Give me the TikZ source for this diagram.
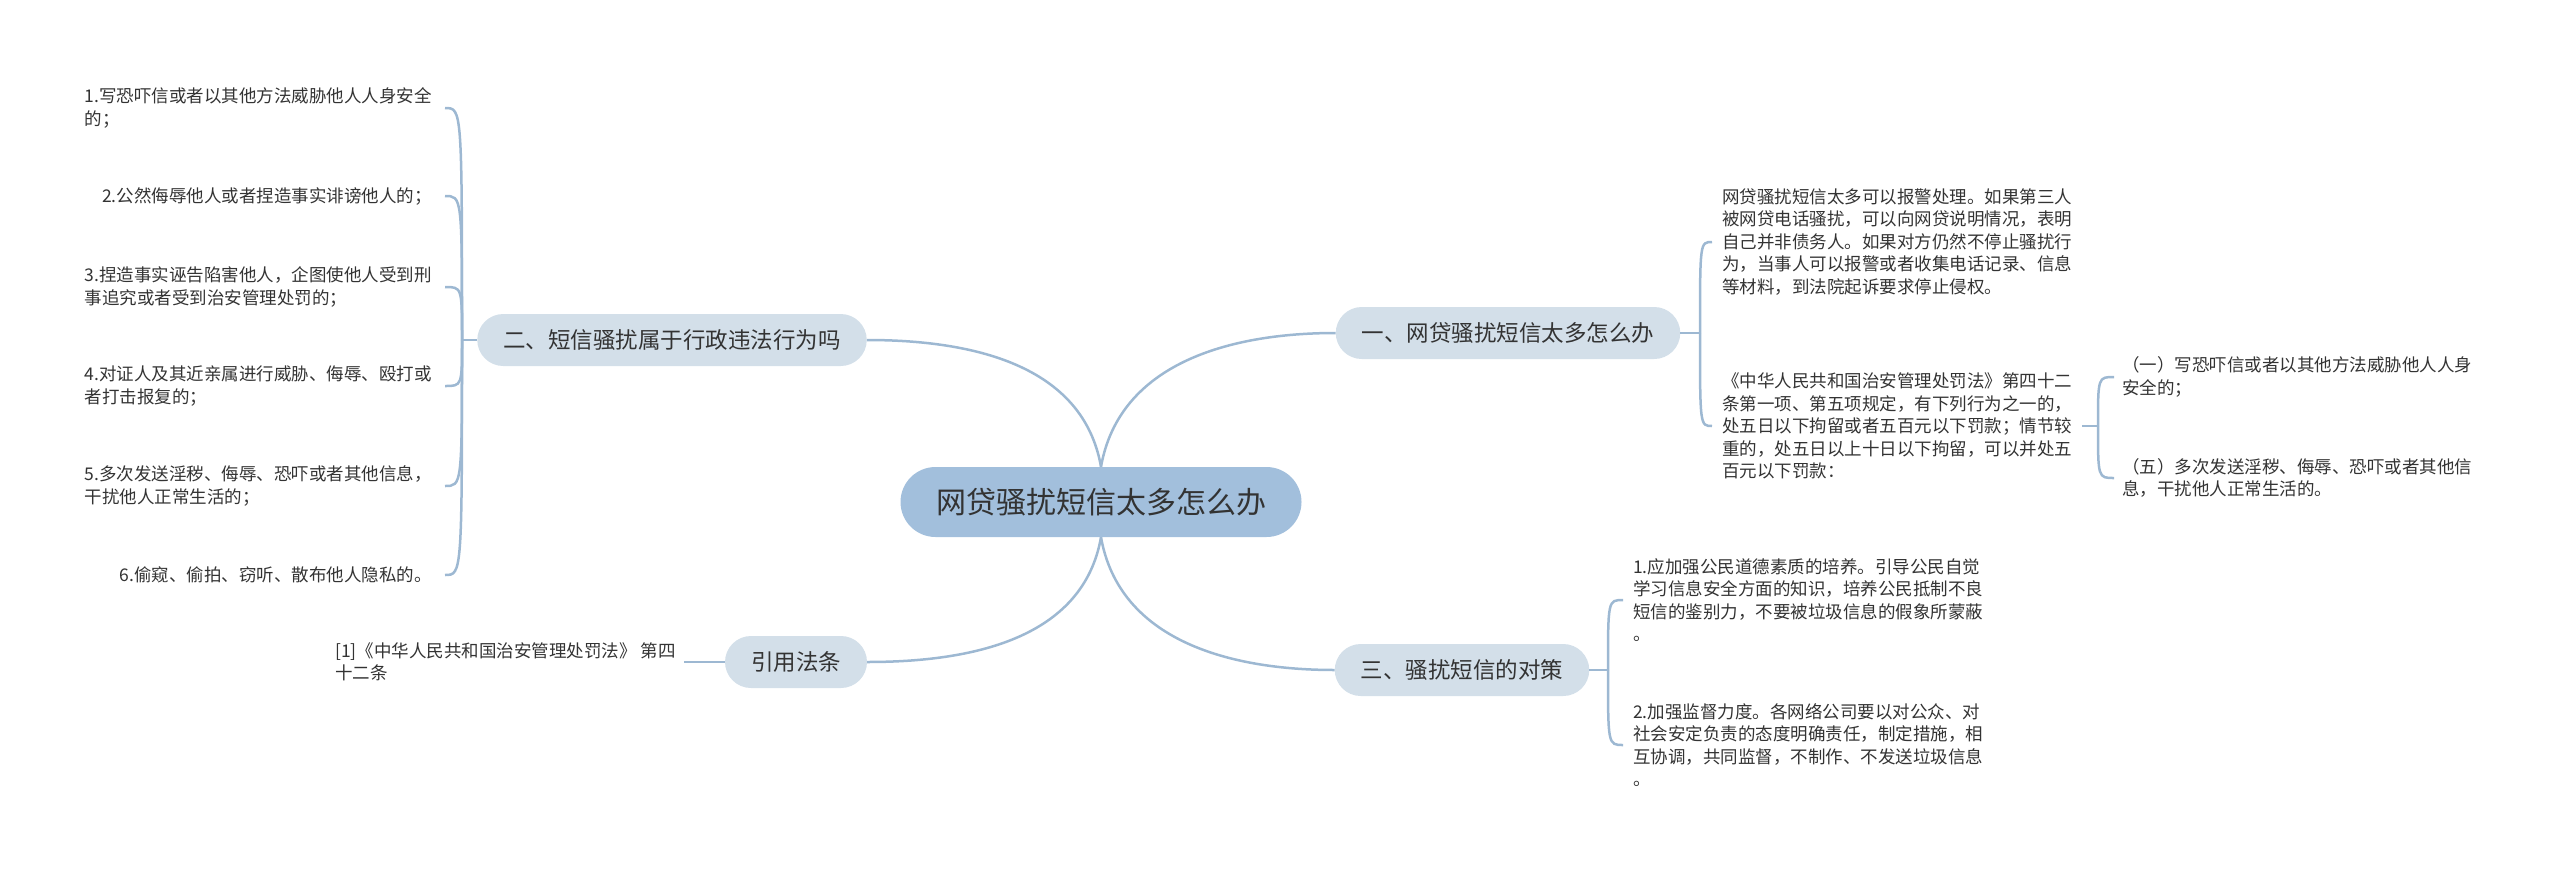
\documentclass[tikz,border=0pt]{standalone}
\usepackage{fontspec}
\setmainfont{Noto Sans CJK SC}
\usetikzlibrary{positioning}
\definecolor{linkblue}{HTML}{9DB8D2}
\definecolor{rootfill}{HTML}{A2BFDC}
\definecolor{topicfill}{HTML}{D3DFE9}
\definecolor{inkgray}{HTML}{333333}

\begin{document}
\begin{tikzpicture}[
  x=1pt, y=1pt,
  root/.style={rectangle, rounded corners=35pt, fill=rootfill, text=inkgray, minimum width=401pt, minimum height=70pt, font=\fontsize{30}{34}\selectfont},
  topic/.style={rectangle, rounded corners=26pt, fill=topicfill, text=inkgray, inner xsep=26pt, minimum height=52pt, font=\fontsize{22.5}{26}\selectfont},
  leaf/.style={align=left, text=inkgray, inner xsep=10pt, inner ysep=2pt, font=\fontsize{17.5}{22.5}\selectfont},
  link/.style={draw=linkblue, line width=2.5pt}
]
\useasboundingbox (0,0) rectangle (2560,-873);

\node[root] (hub) at (1101,-502) {网贷骚扰短信太多怎么办};
\node[topic] (how) at (1508,-333) {一、网贷骚扰短信太多怎么办};
\node[topic] (admin) at (672,-340) {二、短信骚扰属于行政违法行为吗};
\node[topic] (cite) at (796,-662) {引用法条};
\node[topic] (plan) at (1462,-670) {三、骚扰短信的对策};

% 一
\coordinate (howfork) at (1700,-333);
\node[leaf, anchor=west] (howtip) at (1712,-242) {网贷骚扰短信太多可以报警处理。如果第三人\\被网贷电话骚扰，可以向网贷说明情况，表明\\自己并非债务人。如果对方仍然不停止骚扰行\\为，当事人可以报警或者收集电话记录、信息\\等材料，到法院起诉要求停止侵权。};
\node[leaf, anchor=west] (howlaw) at (1712,-426) {《中华人民共和国治安管理处罚法》第四十二\\条第一项、第五项规定，有下列行为之一的，\\处五日以下拘留或者五百元以下罚款；情节较\\重的，处五日以上十日以下拘留，可以并处五\\百元以下罚款：};
\coordinate (lawfork) at (2098,-426);
\node[leaf, anchor=west, inner xsep=8pt] (lawone) at (2114,-377) {（一）写恐吓信或者以其他方法威胁他人人身\\安全的；};
\node[leaf, anchor=west, inner xsep=8pt] (lawfive) at (2114,-478) {（五）多次发送淫秽、侮辱、恐吓或者其他信\\息，干扰他人正常生活的。};

% 二
\coordinate (adminfork) at (462,-340);
\node[leaf, anchor=east, inner xsep=13pt] (threat) at (445,-108) {1.写恐吓信或者以其他方法威胁他人人身安全\\的；};
\node[leaf, anchor=east, inner xsep=13pt] (insult) at (445,-196) {2.公然侮辱他人或者捏造事实诽谤他人的；};
\node[leaf, anchor=east, inner xsep=13pt] (frame) at (445,-287) {3.捏造事实诬告陷害他人，企图使他人受到刑\\事追究或者受到治安管理处罚的；};
\node[leaf, anchor=east, inner xsep=13pt] (witness) at (445,-386) {4.对证人及其近亲属进行威胁、侮辱、殴打或\\者打击报复的；};
\node[leaf, anchor=east, inner xsep=13pt] (obscene) at (445,-486) {5.多次发送淫秽、侮辱、恐吓或者其他信息，\\干扰他人正常生活的；};
\node[leaf, anchor=east, inner xsep=13pt] (privacy) at (445,-575) {6.偷窥、偷拍、窃听、散布他人隐私的。};

% 三
\coordinate (planfork) at (1608,-670);
\node[leaf, anchor=west] (moral) at (1623,-600) {1.应加强公民道德素质的培养。引导公民自觉\\学习信息安全方面的知识，培养公民抵制不良\\短信的鉴别力，不要被垃圾信息的假象所蒙蔽\\。};
\node[leaf, anchor=west] (supervise) at (1623,-745) {2.加强监督力度。各网络公司要以对公众、对\\社会安定负责的态度明确责任，制定措施，相\\互协调，共同监督，不制作、不发送垃圾信息\\。};

% 引用法条
\node[leaf, anchor=east, inner xsep=8pt] (citeref) at (684,-662) {[1]《中华人民共和国治安管理处罚法》 第四\\十二条};

\draw[link] (hub.north) to[out=80, in=180] (how.west);
\draw[link] (hub.north) to[out=100, in=0] (admin.east);
\draw[link] (hub.south) to[out=-80, in=180] (plan.west);
\draw[link] (hub.south) to[out=-100, in=0] (cite.east);

\draw[link] (how.east) -- (howfork);
\draw[link] (howfork) .. controls (howfork |- howtip.west) .. (howtip.west);
\draw[link] (howfork) .. controls (howfork |- howlaw.west) .. (howlaw.west);
\draw[link] (howlaw.east) -- (lawfork);
\draw[link] (lawfork) .. controls (lawfork |- lawone.west) .. (lawone.west);
\draw[link] (lawfork) .. controls (lawfork |- lawfive.west) .. (lawfive.west);

\draw[link] (admin.west) -- (adminfork);
\draw[link] (adminfork) .. controls (adminfork |- threat.east) .. (threat.east);
\draw[link] (adminfork) .. controls (adminfork |- insult.east) .. (insult.east);
\draw[link] (adminfork) .. controls (adminfork |- frame.east) .. (frame.east);
\draw[link] (adminfork) .. controls (adminfork |- witness.east) .. (witness.east);
\draw[link] (adminfork) .. controls (adminfork |- obscene.east) .. (obscene.east);
\draw[link] (adminfork) .. controls (adminfork |- privacy.east) .. (privacy.east);

\draw[link] (plan.east) -- (planfork);
\draw[link] (planfork) .. controls (planfork |- moral.west) .. (moral.west);
\draw[link] (planfork) .. controls (planfork |- supervise.west) .. (supervise.west);

\draw[link] (cite.west) -- (citeref.east);
\end{tikzpicture}
\end{document}
